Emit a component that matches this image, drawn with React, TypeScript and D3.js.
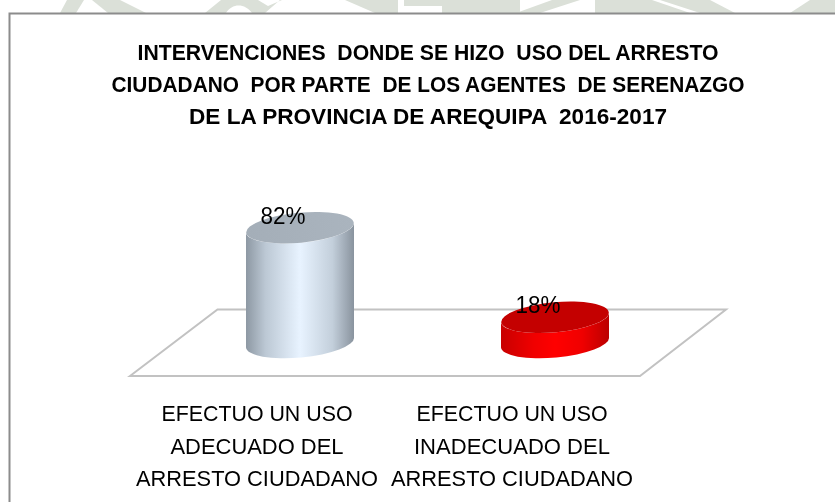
import React from "react";
import * as d3 from "d3";

const categories = ["ADECUADO", "INADECUADO"];
const values = [82, 18];
const valueLabels = ["82%", "18%"];
const titleLines = [
  "INTERVENCIONES  DONDE SE HIZO  USO DEL ARRESTO",
  "CIUDADANO  POR PARTE  DE LOS AGENTES  DE SERENAZGO",
  "DE LA PROVINCIA DE AREQUIPA  2016-2017",
];
const titleWidths = [581, 633, 478];
const categoryLabels = [
  ["EFECTUO UN USO", "ADECUADO DEL", "ARRESTO CIUDADANO"],
  ["EFECTUO UN USO", "INADECUADO DEL", "ARRESTO CIUDADANO"],
];
const labelWidths = [
  [191, 173, 242],
  [191, 196, 242],
];

const W = 835;
const H = 502;
const x = d3.scalePoint<string>().domain(categories).range([300, 555]);
const h = d3.scaleLinear().domain([0, 100]).range([0, 140]);
const BASE_Y = 342.5;
const R = 54;
const RY = 15;
const DY = 5;
const TILT = (-Math.atan2(DY, R) * 180) / Math.PI;

const floorPts: [number, number][] = [[130, 376], [217.5, 309.5], [726, 309.5], [640, 376]];
const floor = d3.line()(floorPts) + "Z";

const themes = [
  { side: "sideBlue", top: "topBlue" },
  { side: "sideRed", top: "topRed" },
];

const watermark = [
  "M60,13L67,0H84L76,13Z",
  "M92,0H120L146,13H108Z",
  "M205,13L221,0H258L268,6L282,0H262L280,0L265,13H252C245,3 232,3 226,13Z",
  "M345,0H398V13H375Z",
  "M404,0H520V13H442V6H404Z",
  "M516,13L552,0H580L540,13Z",
  "M595,0H652L690,13H595Z",
  "M660,0H710L735,13H700Z",
  "M790,13L810,0H835V13Z",
];

export default function App() {
  return (
    <svg
      width={W}
      height={H}
      viewBox={`0 0 ${W} ${H}`}
      style={{ position: "absolute", left: 0, top: 0, background: "#fff" }}
    >
      <defs>
        <linearGradient id="sideBlue" x1="0" x2="1" y1="0" y2="0">
          <stop offset="0" stopColor="#8d98a3" />
          <stop offset="0.18" stopColor="#bcc8d4" />
          <stop offset="0.5" stopColor="#e8f3ff" />
          <stop offset="0.8" stopColor="#c3cfdb" />
          <stop offset="1" stopColor="#89939e" />
        </linearGradient>
        <linearGradient id="topBlue" x1="0" x2="1" y1="0" y2="0">
          <stop offset="0" stopColor="#a4aeb8" />
          <stop offset="1" stopColor="#aab4be" />
        </linearGradient>
        <linearGradient id="sideRed" x1="0" x2="1" y1="0" y2="0">
          <stop offset="0" stopColor="#c80000" />
          <stop offset="0.3" stopColor="#f00000" />
          <stop offset="0.5" stopColor="#ff0000" />
          <stop offset="0.75" stopColor="#f00000" />
          <stop offset="1" stopColor="#bb0000" />
        </linearGradient>
        <linearGradient id="topRed" x1="0" x2="1" y1="0" y2="0">
          <stop offset="0" stopColor="#c40000" />
          <stop offset="1" stopColor="#c40000" />
        </linearGradient>
        <filter id="soft" x="-5%" y="-5%" width="110%" height="110%">
          <feGaussianBlur stdDeviation="0.5" />
        </filter>
        <filter id="softText" x="-2%" y="-5%" width="104%" height="110%">
          <feGaussianBlur stdDeviation="0.3" />
        </filter>
      </defs>

      <g fill="#dbe0d8">
        {watermark.map((d, i) => (
          <path key={i} d={d} />
        ))}
      </g>
      <path d={`M9.5,${H}V13.5H${W}`} fill="none" stroke="#8c8c8c" strokeWidth={2} />

      <g
        fontFamily="'Liberation Sans Narrow','Liberation Sans',sans-serif"
        fontWeight="bold"
        fontSize={22}
        fill="#000"
        textAnchor="middle"
        filter="url(#softText)"
      >
        {titleLines.map((t, i) => (
          <text
            key={i}
            x={428}
            y={60 + i * 32}
            xmlSpace="preserve"
            textLength={titleWidths[i]}
            lengthAdjust="spacingAndGlyphs"
          >
            {t}
          </text>
        ))}
      </g>

      <path d={floor} fill="#fff" stroke="#c2c2c2" strokeWidth={2} />

      {categories.map((c, i) => {
        const cx = x(c) as number;
        const ht = h(values[i]);
        const topY = BASE_Y - ht;
        const side =
          `M${cx - R},${topY + DY}L${cx - R},${BASE_Y + DY}` +
          `A${R},${RY} ${TILT} 0 0 ${cx + R},${BASE_Y - DY}` +
          `L${cx + R},${topY - DY}` +
          `A${R},${RY} ${TILT} 0 1 ${cx - R},${topY + DY}Z`;
        return (
          <g key={c} filter="url(#soft)">
            <path d={side} fill={`url(#${themes[i].side})`} />
            <ellipse
              cx={cx}
              cy={topY}
              rx={R}
              ry={RY}
              transform={`rotate(${TILT} ${cx} ${topY})`}
              fill={`url(#${themes[i].top})`}
            />
          </g>
        );
      })}

      <g
        fontFamily="'Liberation Sans',sans-serif"
        fontSize={24}
        fill="#000"
        textAnchor="middle"
        filter="url(#softText)"
      >
        {categories.map((c, i) => (
          <text
            key={c}
            x={(x(c) as number) - 17}
            y={BASE_Y - h(values[i]) - 4}
            textLength={45}
            lengthAdjust="spacingAndGlyphs"
          >
            {valueLabels[i]}
          </text>
        ))}
      </g>

      <g
        fontFamily="'Liberation Sans','Open Sans',sans-serif"
        fontSize={22.5}
        fill="#000"
        textAnchor="middle"
        filter="url(#softText)"
      >
        {categories.map((c, i) =>
          categoryLabels[i].map((line, j) => (
            <text
              key={c + j}
              x={(x(c) as number) - 43}
              y={421 + j * 32.5}
              textLength={labelWidths[i][j]}
              lengthAdjust="spacingAndGlyphs"
            >
              {line}
            </text>
          ))
        )}
      </g>
    </svg>
  );
}
